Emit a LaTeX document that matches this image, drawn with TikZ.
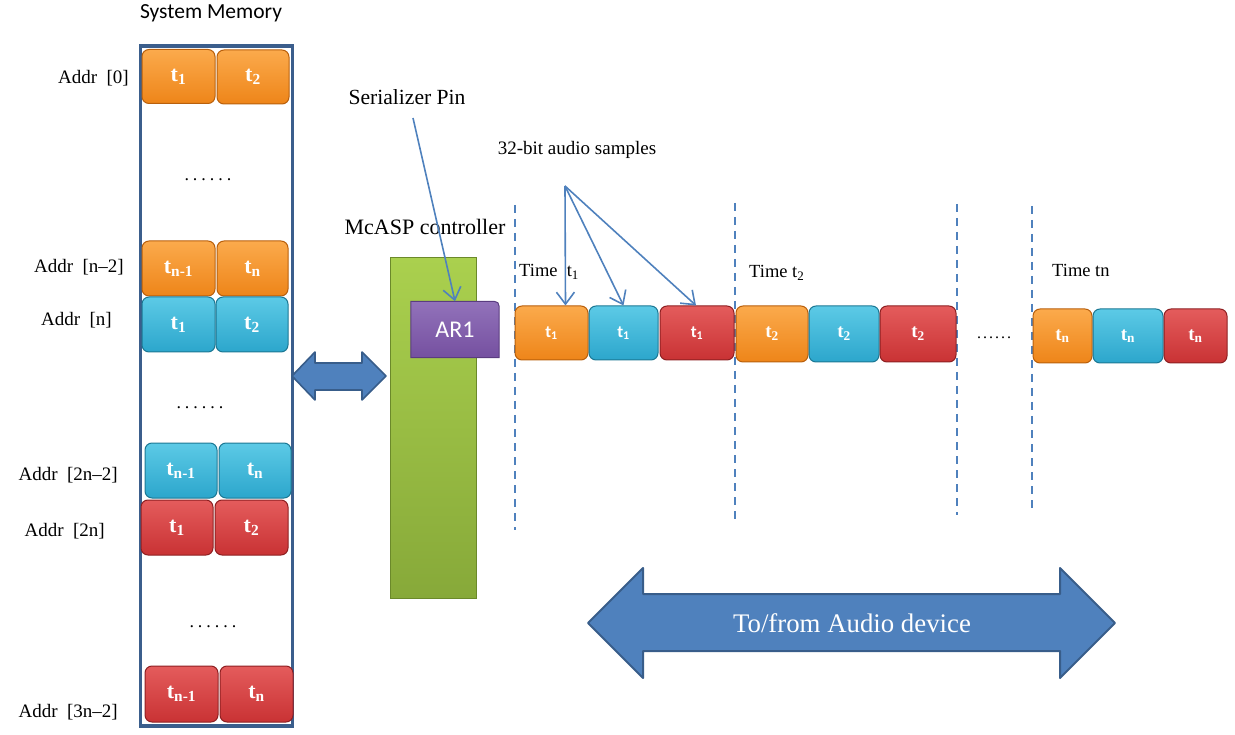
\documentclass[tikz,border=0pt]{standalone}
\usepackage{fontspec}
\setmainfont{Liberation Serif}
\newfontfamily\calfont{Carlito}
\usetikzlibrary{arrows.meta}
\definecolor{orbase}{HTML}{EE8519}
\definecolor{ortop}{HTML}{FBAA4C}
\definecolor{ordraw}{HTML}{B9600C}
\definecolor{cybase}{HTML}{2CA6CC}
\definecolor{cytop}{HTML}{5CCAE6}
\definecolor{cydraw}{HTML}{1C7894}
\definecolor{rdbase}{HTML}{C93234}
\definecolor{rdtop}{HTML}{E45C5C}
\definecolor{rddraw}{HTML}{8E2022}
\definecolor{grtop}{HTML}{AAD04E}
\definecolor{grbase}{HTML}{87A939}
\definecolor{grdraw}{HTML}{6B892A}
\definecolor{putop}{HTML}{9272BA}
\definecolor{pubase}{HTML}{7550A0}
\definecolor{pudraw}{HTML}{5A3C80}
\definecolor{arblue}{HTML}{4F81BD}
\definecolor{ardraw}{HTML}{385D8A}
\definecolor{memblue}{HTML}{3B5E8C}
\newcommand\mydots[1]{.\kern#1.\kern#1.\kern#1.\kern#1.\kern#1.}
\tikzset{
  blk/.style={rectangle, rounded corners=7pt, line width=1pt, inner sep=0pt,
    text=white, font=\fontsize{22}{22}\selectfont\bfseries},
  oblk/.style={blk, top color=ortop, bottom color=orbase, draw=ordraw},
  cblk/.style={blk, top color=cytop, bottom color=cybase, draw=cydraw},
  rblk/.style={blk, top color=rdtop, bottom color=rdbase, draw=rddraw},
  sanst/.style={font=\calfont\fontsize{17}{17}\selectfont\bfseries},
  sert/.style={font=\fontsize{19}{19}\selectfont\bfseries},
  addr/.style={font=\fontsize{19}{19}\selectfont, inner sep=0pt},
  lbl/.style={font=\fontsize{21.6}{21.6}\selectfont, inner sep=0pt},
  dots/.style={font=\fontsize{18}{18}\selectfont, inner sep=0pt},
  tdash/.style={draw=arblue, line width=1.8pt, dash pattern=on 8pt off 6pt},
  ptr/.style={draw=arblue, line width=1.6pt, -{Straight Barb[length=12pt,width=18pt,line width=1.6pt]}},
  fatarrow/.style={fill=arblue, draw=ardraw, line width=2pt, line join=round},
}
\begin{document}
\begin{tikzpicture}[x=1pt,y=-1pt]
\useasboundingbox (0,0) rectangle (1235,735);

% System memory
\node[font=\calfont\fontsize{21.5}{21.5}\selectfont, inner sep=0pt] (sysmem) at (211,13) {System Memory};
\node[draw=memblue, line width=3.5pt, minimum width=152pt, minimum height=680pt, inner sep=0pt] (mem) at (216.5,386) {};

\node[oblk, minimum width=73pt, minimum height=54pt] (m0a) at (178.5,76.5) {t\textsubscript{1}};
\node[oblk, minimum width=72pt, minimum height=54pt] (m0b) at (253,77) {t\textsubscript{2}};
\node[dots] (d1) at (208,180) {\mydots{4pt}};
\node[oblk, minimum width=73pt, minimum height=55pt] (mn2a) at (178.5,268.5) {t\textsubscript{n-1}};
\node[oblk, minimum width=71pt, minimum height=55pt] (mn2b) at (252.5,268.5) {t\textsubscript{n}};
\node[cblk, minimum width=73pt, minimum height=55pt] (mna) at (178.5,324.5) {t\textsubscript{1}};
\node[cblk, minimum width=72pt, minimum height=55pt] (mnb) at (252,324.5) {t\textsubscript{2}};
\node[dots] (d2) at (200,408) {\mydots{4pt}};
\node[cblk, minimum width=72pt, minimum height=55pt] (m2n2a) at (181,470.5) {t\textsubscript{n-1}};
\node[cblk, minimum width=72pt, minimum height=55pt] (m2n2b) at (255,470.5) {t\textsubscript{n}};
\node[rblk, minimum width=72pt, minimum height=55pt] (m2na) at (177,527.5) {t\textsubscript{1}};
\node[rblk, minimum width=73pt, minimum height=55pt] (m2nb) at (251.5,527.5) {t\textsubscript{2}};
\node[dots] (d3) at (213,627) {\mydots{4pt}};
\node[rblk, minimum width=73pt, minimum height=56pt] (m3na) at (181.5,694) {t\textsubscript{n-1}};
\node[rblk, minimum width=73pt, minimum height=56pt] (m3nb) at (256.5,694) {t\textsubscript{n}};

\node[addr, anchor=east] (a0) at (129,78) {Addr\ \ [0]};
\node[addr, anchor=east] (a1) at (124,267) {Addr\ \ [n--2]};
\node[addr, anchor=east] (a2) at (112,320) {Addr\ \ [n]};
\node[addr, anchor=east] (a3) at (118,475) {Addr\ \ [2n--2]};
\node[addr, anchor=east] (a4) at (105,531) {Addr\ \ [2n]};
\node[addr, anchor=east] (a5) at (118,712) {Addr\ \ [3n--2]};

% memory <-> controller arrow
\path[fatarrow, line width=1.6pt] (292,376) -- (315,352) -- (315,363) -- (362,363) -- (362,352)
  -- (386,376) -- (362,400) -- (362,390) -- (315,390) -- (315,400) -- cycle;

% McASP controller
\node[lbl, font=\fontsize{22}{22}\selectfont] (mcasp) at (425,227) {McASP controller};
\node[rectangle, top color=grtop, bottom color=grbase, draw=grdraw, line width=1pt,
  minimum width=86pt, minimum height=340pt, inner sep=0pt] (ctrl) at (433,428) {};
\node[minimum width=88pt, minimum height=56pt, inner sep=0pt] (ar) at (455,329.5) {};
\path[top color=putop, bottom color=pubase, draw=pudraw, line width=1pt]
  (ar.south west) -- (ar.north west) -- ([xshift=-11pt]ar.north east)
  .. controls (ar.north east) .. ([yshift=-11pt]ar.north east) -- (ar.south east) -- cycle;
\node[text=white, font=\calfont\fontsize{24}{24}\selectfont, inner sep=0pt] (artext) at (ar.center) {AR1};

% Serializer pin
\node[lbl] (ser) at (407,97) {Serializer Pin};
\coordinate (sersrc) at (413,118);
\draw[ptr] (sersrc) -- (ar.north);

% dashed time separators
\coordinate (v1t) at (515,205); \coordinate (v1b) at (515,530);
\coordinate (v2t) at (735,203); \coordinate (v2b) at (735,524);
\coordinate (v3t) at (957,204); \coordinate (v3b) at (957,515);
\coordinate (v4t) at (1032,206); \coordinate (v4b) at (1032,510);
\draw[tdash] (v1t) -- (v1b);
\draw[tdash] (v2t) -- (v2b);
\draw[tdash] (v3t) -- (v3b);
\draw[tdash] (v4t) -- (v4b);

\node[font=\fontsize{18.5}{18.5}\selectfont, inner sep=0pt, anchor=west] (time1) at (519,272) {Time \ t\textsubscript{1}};
\node[font=\fontsize{18.5}{18.5}\selectfont, inner sep=0pt, anchor=west] (time2) at (749,273) {Time t\textsubscript{2}};
\node[font=\fontsize{18.5}{18.5}\selectfont, inner sep=0pt, anchor=west] (timen) at (1052,270) {Time tn};

% timeline blocks
\node[oblk, sanst, minimum width=73pt, minimum height=54pt] (ta) at (551.5,333) {t\textsubscript{1}};
\node[cblk, sanst, minimum width=69pt, minimum height=54pt] (tb) at (623.5,333) {t\textsubscript{1}};
\node[rblk, sanst, minimum width=74pt, minimum height=54pt] (tc) at (697,333) {t\textsubscript{1}};
\node[oblk, sert, minimum width=72pt, minimum height=56pt] (t2a) at (772,334) {t\textsubscript{2}};
\node[cblk, sert, minimum width=70pt, minimum height=56pt] (t2b) at (844,334) {t\textsubscript{2}};
\node[rblk, sert, minimum width=76pt, minimum height=56pt] (t2c) at (918,334) {t\textsubscript{2}};
\node[dots, font=\fontsize{16}{16}\selectfont] (d4) at (994,338) {\mydots{2pt}};
\node[oblk, sert, minimum width=59pt, minimum height=54pt] (tna) at (1062.5,336) {t\textsubscript{n}};
\node[cblk, sert, minimum width=70pt, minimum height=54pt] (tnb) at (1128,336) {t\textsubscript{n}};
\node[rblk, sert, minimum width=63pt, minimum height=54pt] (tnc) at (1195.5,336) {t\textsubscript{n}};

% 32-bit audio samples
\node[font=\fontsize{19}{19}\selectfont, inner sep=0pt] (samp) at (577,150) {32-bit audio samples};
\coordinate (sampsrc) at (565,186);
\draw[ptr] (sampsrc) -- ([xshift=14pt]ta.north);
\draw[ptr] (sampsrc) -- (tb.north);
\draw[ptr] (sampsrc) -- ([xshift=-1pt]tc.north);

% To/from audio device
\path[fatarrow] (588,623) -- (643,568) -- (643,594) -- (1060,594) -- (1060,568) -- (1115,623)
  -- (1060,678) -- (1060,651) -- (643,651) -- (643,678) -- cycle;
\node[text=white, font=\fontsize{26.8}{26.8}\selectfont, inner sep=0pt] (audio) at (852,623) {To/from Audio device};
\end{tikzpicture}
\end{document}
